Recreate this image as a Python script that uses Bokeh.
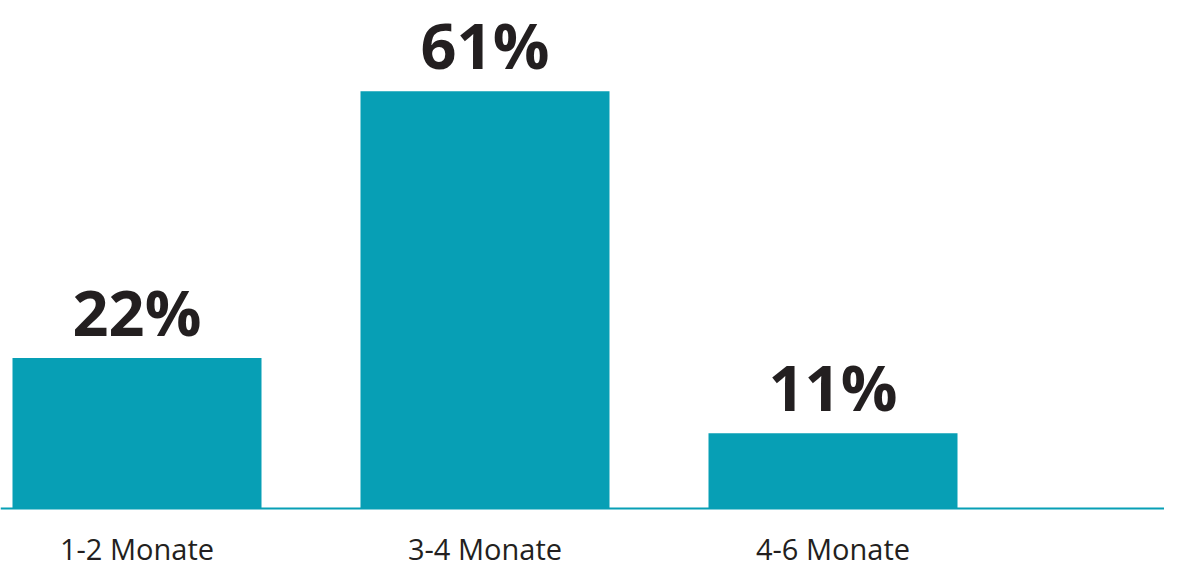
from bokeh.plotting import figure
from bokeh.models import ColumnDataSource, Range1d, Span
from bokeh.core.properties import value
from bokeh.embed import file_html
from bokeh.resources import INLINE

categories = ["1-2 Monate", "3-4 Monate", "4-6 Monate"]
values = [22, 61, 11]
value_labels = ["22%", "61%", "11%"]

positions = list(range(len(categories)))

src = ColumnDataSource(dict(x=positions, top=values, lbl=value_labels, cat=categories,
                            zero=[0] * len(categories)))

TEAL = "#079fb5"
DARK = "#231f20"

W, H = 1164, 572
ZERO_PX = 508
K = 6.84      # px per percent
STEP = 348    # px per category

p = figure(width=W, height=H, output_backend="svg", toolbar_location=None,
           x_range=Range1d((0 - 136.5) / STEP, (W - 136.5) / STEP),
           y_range=Range1d(-(H - ZERO_PX) / K, ZERO_PX / K),
           x_axis_location=None, y_axis_location=None, min_border=0)
p.outline_line_color = None
p.xgrid.visible = False
p.ygrid.visible = False
p.background_fill_color = "white"
p.border_fill_color = "white"

p.vbar(x="x", top="top", bottom=0, width=249 / STEP, source=src,
       fill_color=TEAL, line_color=None)

p.add_layout(Span(location=0, dimension="width", line_color=TEAL, line_width=2))

p.text(x="x", y="top", text="lbl", source=src, text_align="center",
       text_baseline="alphabetic", y_offset=-47,
       text_font=value("Open Sans"), text_font_style="bold",
       text_font_size="63px", text_color=DARK)

p.text(x="x", y="zero", text="cat", source=src, text_align="center",
       text_baseline="alphabetic", y_offset=40,
       text_font=value("Open Sans"), text_font_size="29px", text_color=DARK)

open("out.html", "w").write(file_html(p, INLINE))
